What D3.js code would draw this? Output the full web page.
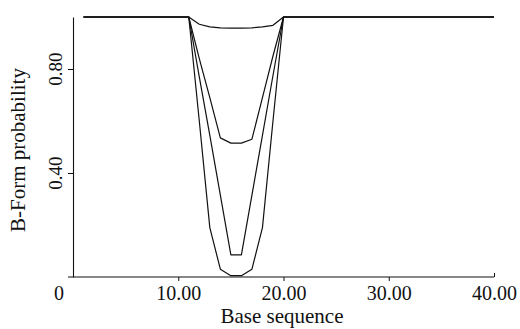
<!DOCTYPE html>
<html>
<head>
<meta charset="utf-8">
<script src="https://cdn.jsdelivr.net/npm/d3@7"></script>
<style>
  body { margin: 0; background: #fff; }
</style>
</head>
<body>
<div id="chart"></div>
<script>
// base positions along the sequence
var positions = d3.range(1, 41);

// B-form probability of each curve inside the melted region (bases 11..20), 1.0 elsewhere
var dipBases = [11, 12, 13, 14, 15, 16, 17, 18, 19, 20];
var curveA = [1.0, 0.972, 0.962, 0.958, 0.957, 0.957, 0.958, 0.962, 0.968, 1.0];
var curveB = [1.0, 0.84, 0.69, 0.535, 0.515, 0.515, 0.53, 0.69, 0.85, 1.0];
var curveC = [1.0, 0.77, 0.545, 0.315, 0.085, 0.085, 0.315, 0.545, 0.775, 1.0];
var curveD = [1.0, 0.6, 0.19, 0.03, 0.005, 0.005, 0.03, 0.19, 0.6, 1.0];

var xTicks = [10, 20, 30, 40];
var yTicks = [0.4, 0.8];

var svgWidth = 520;
var svgHeight = 329;
var serif = "'Liberation Serif', 'Times New Roman', Times, 'DejaVu Serif', 'Noto Serif', serif";

var svg = d3.select("#chart")
    .append("svg")
    .attr("width", svgWidth)
    .attr("height", svgHeight);

// scales
var xScale = d3.scaleLinear().domain([0, 40]).range([73, 494]);
var yScale = d3.scaleLinear().domain([0, 1]).range([277, 17]);

// build a full series from the dip values
function buildSeries(dip) {
    return positions.map(function (p) {
        var i = dipBases.indexOf(p);
        return { x: p, y: i >= 0 ? dip[i] : 1.0 };
    });
}

var line = d3.line()
    .x(d => xScale(d.x))
    .y(d => yScale(d.y));

[curveA, curveB, curveC, curveD].forEach(function (dip) {
    svg.append("path")
        .datum(buildSeries(dip))
        .attr("d", line)
        .attr("fill", "none")
        .attr("stroke", "#111")
        .attr("stroke-width", 1.2)
        .attr("stroke-linejoin", "round");
});

// x axis
var xAxis = svg.append("g")
    .attr("transform", `translate(0, ${yScale(0)})`)
    .call(d3.axisBottom(xScale).tickValues(xTicks).tickSize(4).tickSizeOuter(0).tickFormat(d3.format(".2f")));

xAxis.attr("font-family", serif);
xAxis.select(".domain")
    .attr("d", `M68,0H${xScale(40)}`)
    .attr("stroke", "#111")
    .attr("stroke-width", 1.1);
xAxis.selectAll(".tick line").attr("stroke", "#111");
xAxis.selectAll(".tick")
    .filter(d => d === 40)
    .select("line").attr("y2", -4);
xAxis.selectAll(".tick text")
    .attr("y", 23)
    .attr("dy", 0)
    .attr("font-size", 20)
    .attr("font-family", serif)
    .attr("fill", "#111");

// origin label
svg.append("text")
    .attr("x", 59)
    .attr("y", 300)
    .attr("text-anchor", "middle")
    .attr("font-family", serif)
    .attr("font-size", 20)
    .attr("fill", "#111")
    .text("0");

// y axis
var yAxis = svg.append("g")
    .attr("transform", `translate(${xScale(0)}, 0)`)
    .call(d3.axisLeft(yScale).tickValues(yTicks).tickSize(5).tickSizeOuter(0).tickFormat(d3.format(".2f")));

yAxis.select(".domain")
    .attr("stroke", "#111")
    .attr("stroke-width", 1.1);
yAxis.selectAll(".tick line").attr("stroke", "#111");
yAxis.selectAll(".tick text").remove();

yTicks.forEach(function (t) {
    svg.append("text")
        .attr("transform", `translate(62, ${yScale(t)}) rotate(-90)`)
        .attr("text-anchor", "middle")
        .attr("font-family", serif)
        .attr("font-size", 19)
        .attr("fill", "#111")
        .text(d3.format(".2f")(t));
});

// axis titles
svg.append("text")
    .attr("x", 282)
    .attr("y", 323)
    .attr("text-anchor", "middle")
    .attr("font-family", serif)
    .attr("font-size", 21)
    .attr("fill", "#111")
    .text("Base sequence");

svg.append("text")
    .attr("transform", "translate(25, 150) rotate(-90)")
    .attr("text-anchor", "middle")
    .attr("font-family", serif)
    .attr("font-size", 21)
    .attr("fill", "#111")
    .text("B-Form probability");
</script>
</body>
</html>
